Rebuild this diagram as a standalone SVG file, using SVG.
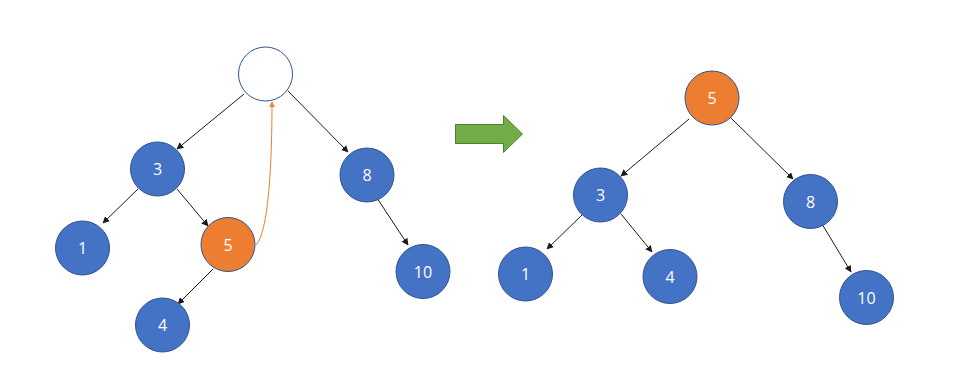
<svg xmlns="http://www.w3.org/2000/svg" width="953" height="372" viewBox="0 0 953 372">
<style>
.n{fill:#4472C4;stroke:#2F528F;stroke-width:1}
.o{fill:#ED7D31;stroke:#2F528F;stroke-width:1}
.e{fill:#FFFFFF;stroke:#2F528F;stroke-width:1}
.t{fill:#FFFFFF;font-family:"Open Sans","Noto Sans",sans-serif;font-size:16px;text-anchor:middle;dominant-baseline:central}
.c{fill:none;stroke:#1a1a1a;stroke-width:1;marker-end:url(#ab)}
.co{fill:none;stroke:#ED7D31;stroke-width:1;marker-end:url(#ao)}
</style>
<defs>
<marker id="ab" viewBox="0 0 10 10" refX="9" refY="5" markerWidth="7" markerHeight="7" markerUnits="userSpaceOnUse" orient="auto"><path d="M0,0 L10,5 L0,10 z" fill="#1a1a1a"/></marker>
<marker id="ao" viewBox="0 0 10 10" refX="9" refY="5" markerWidth="6" markerHeight="6" markerUnits="userSpaceOnUse" orient="auto"><path d="M0,0 L10,5 L0,10 z" fill="#ED7D31"/></marker>
</defs>
<rect width="953" height="372" fill="#FFFFFF"/>
<g id="connectors">
<line class="c" x1="244" y1="94" x2="177" y2="149"/>
<line class="c" x1="288" y1="91" x2="348" y2="152"/>
<line class="c" x1="138" y1="189" x2="103" y2="223"/>
<line class="c" x1="177" y1="189" x2="208" y2="226"/>
<line class="c" x1="213" y1="269" x2="178" y2="304"/>
<line class="c" x1="377" y1="198" x2="408" y2="245"/>
<path class="co" d="M256,245 C268,232 272,170 272,102"/>
<line class="c" x1="689" y1="119" x2="621" y2="176"/>
<line class="c" x1="731" y1="118" x2="793" y2="179"/>
<line class="c" x1="582" y1="215" x2="547" y2="249"/>
<line class="c" x1="621" y1="214" x2="652" y2="252"/>
<line class="c" x1="822" y1="224" x2="851" y2="272"/>
</g>
<g id="L-root"><circle class="e" cx="265.5" cy="74" r="27"/></g>
<g id="L-3"><circle class="n" cx="157.5" cy="169" r="27"/><text class="t" x="157.5" y="169">3</text></g>
<g id="L-1"><circle class="n" cx="82.5" cy="248" r="27"/><text class="t" x="82.5" y="248">1</text></g>
<g id="L-5"><circle class="o" cx="228" cy="244.5" r="27"/><text class="t" x="228" y="244.5">5</text></g>
<g id="L-4"><circle class="n" cx="162.5" cy="325" r="27"/><text class="t" x="162.5" y="325">4</text></g>
<g id="L-8"><circle class="n" cx="367" cy="175" r="27"/><text class="t" x="367" y="175">8</text></g>
<g id="L-10"><circle class="n" cx="423" cy="271.5" r="27"/><text class="t" x="423" y="271.5">10</text></g>
<g id="arrow"><path d="M455.5,124.5 H503.5 V115.5 L522.5,134 L503.5,152.5 V143.5 H455.5 Z" fill="#70AD47" stroke="#507E32" stroke-width="1"/></g>
<g id="R-5"><circle class="o" cx="712" cy="98" r="27"/><text class="t" x="712" y="98">5</text></g>
<g id="R-3"><circle class="n" cx="600.5" cy="195" r="27"/><text class="t" x="600.5" y="195">3</text></g>
<g id="R-1"><circle class="n" cx="525.5" cy="274" r="27"/><text class="t" x="525.5" y="274">1</text></g>
<g id="R-4"><circle class="n" cx="670" cy="276.5" r="27"/><text class="t" x="670" y="276.5">4</text></g>
<g id="R-8"><circle class="n" cx="810.5" cy="201.5" r="27"/><text class="t" x="810.5" y="201.5">8</text></g>
<g id="R-10"><circle class="n" cx="866.5" cy="297.5" r="27"/><text class="t" x="866.5" y="297.5">10</text></g>
</svg>
